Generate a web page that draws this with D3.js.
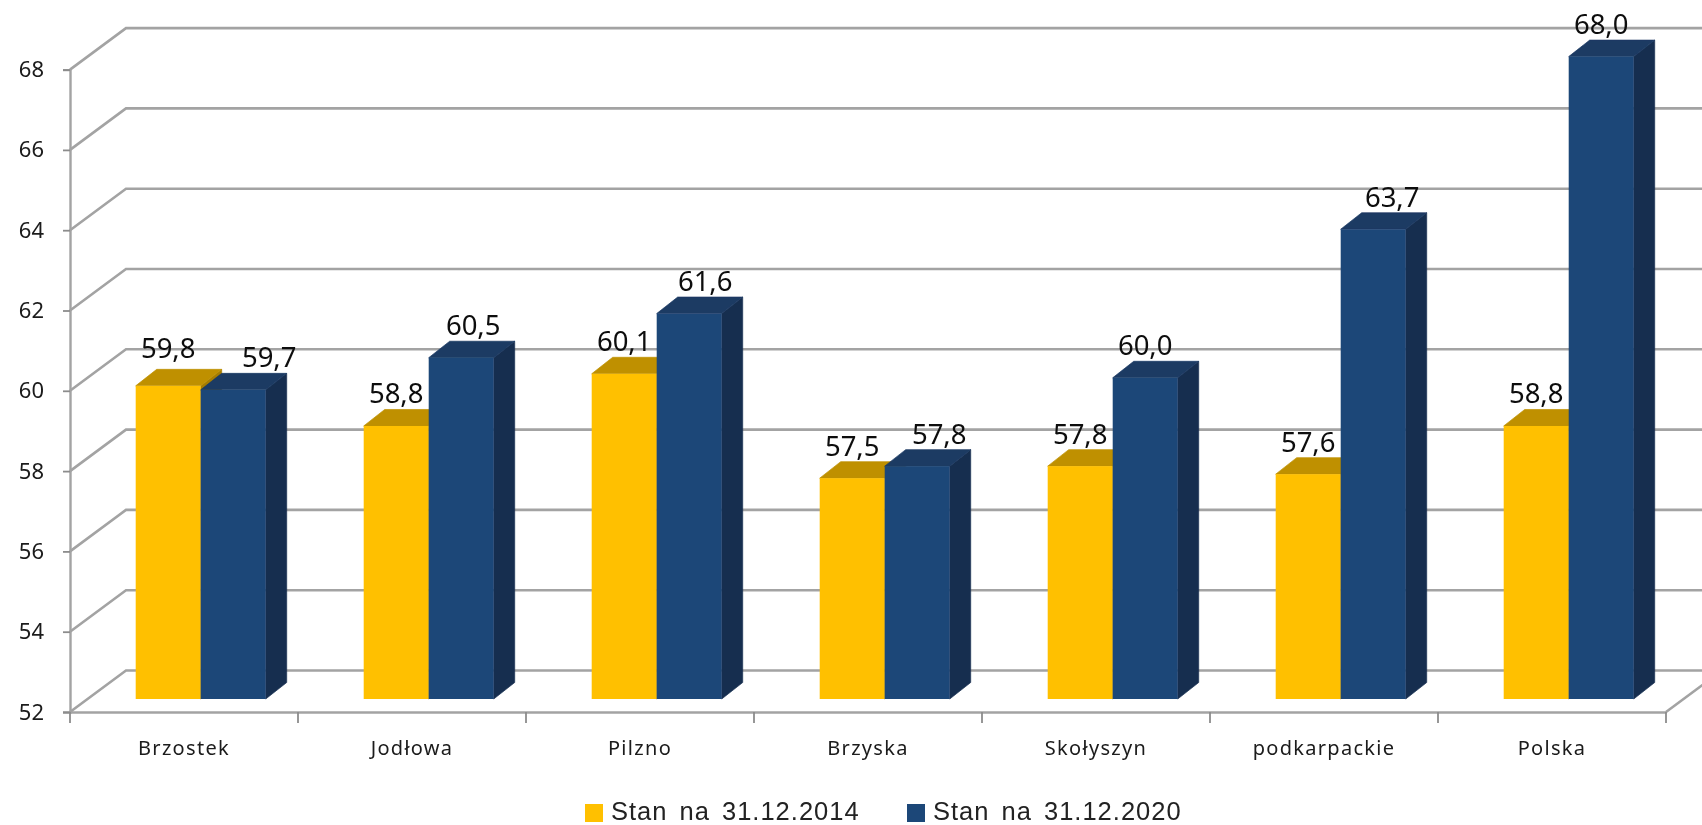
<!DOCTYPE html>
<html><head><meta charset="utf-8">
<script src="https://cdn.jsdelivr.net/npm/d3@7"></script>
<style>html,body{margin:0;padding:0;background:#fff;overflow:hidden}svg{display:block}</style>
</head><body><div id="c"></div>
<script>
const categories = ["Brzostek","Jodłowa","Pilzno","Brzyska","Skołyszyn","podkarpackie","Polska"];
const series2014 = [59.8,58.8,60.1,57.5,57.8,57.6,58.8];
const series2020 = [59.7,60.5,61.6,57.8,60.0,63.7,68.0];
const seriesNames = ["Stan na 31.12.2014","Stan na 31.12.2020"];
const yTicks = [52,54,56,58,60,62,64,66,68];
const labelNudgeX2020 = [36,12,16,22,0,19,0];
const labelNudgeY2014 = [-5,0,0,0,0,0,0];

const W=1702,H=825;
const svg=d3.select("#c").append("svg").attr("width",W).attr("height",H).attr("viewBox",`0 0 ${W} ${H}`);
const defs=svg.append("defs");
defs.append("filter").attr("id","soft").attr("x",0).attr("y",0).attr("width",1).attr("height",1)
  .attr("filterUnits","userSpaceOnUse").attr("width",W).attr("height",H)
  .append("feGaussianBlur").attr("stdDeviation",0.55);
const root=svg.append("g").attr("filter","url(#soft)");

const x=d3.scaleBand().domain(categories).range([70,1666]);
const y=d3.scaleLinear().domain([52,68]).range([712,69.6]);
const fmt=v=>d3.format(".1f")(v).replace(".",",");
const backDx=56, backDy=-41.5, grey="#a3a3a3";

// walls
const walls=root.append("g").attr("fill","none").attr("stroke",grey).attr("stroke-width",2.6);
walls.selectAll("path").data(yTicks).join("path")
  .attr("d",t=>`M70,${y(t)}L${70+backDx},${y(t)+backDy}H${W+10}`);
walls.append("path").attr("d",`M1666,${y(52)}L${1666+backDx},${y(52)+backDy}`);

// axes
const axL=root.append("g").attr("transform","translate(70,0)")
  .call(d3.axisLeft(y).tickValues(yTicks).tickSize(7).tickPadding(19).tickFormat(d3.format("d")));
const axB=root.append("g").attr("transform",`translate(0,${y(52)})`)
  .call(d3.axisBottom(x).tickValues(categories).tickSize(0).tickPadding(29));
axB.append("g").selectAll("line").data(d3.range(categories.length+1)).join("line")
  .attr("x1",i=>70+i*x.bandwidth()).attr("x2",i=>70+i*x.bandwidth()).attr("y1",0).attr("y2",11);
[axL,axB].forEach(a=>{
  a.selectAll("path.domain").attr("stroke",grey).attr("stroke-width",2.4);
  a.selectAll("line").attr("stroke","#8c8c8c").attr("stroke-width",1.8);
  a.selectAll("text").attr("fill","#1a1a1a").attr("font-family","'Noto Sans',sans-serif");
});
axL.selectAll("text").attr("font-size",22);
axB.selectAll("text").attr("font-size",20).attr("letter-spacing",1.3);

// bars
const barW=65, barOffset=65.7, floor=13, dx=21, dy=-16.5;
const palettes=[{front:"#ffc000",top:"#bf9000",side:"#a67d00"},{front:"#1f4778",top:"#1b3a63",side:"#172f50"}];
const rows=categories.map((c,i)=>[
  {c,i,s:0,v:series2014[i]},{c,i,s:1,v:series2020[i]}]).flat();
const bars=root.append("g").selectAll("g").data(rows).join("g");
const bx=d=>x(d.c)+barOffset+d.s*barW;
const by=v=>y(v)-floor;
bars.append("path").attr("fill",d=>palettes[d.s].side).attr("stroke",d=>palettes[d.s].side).attr("stroke-width",0.7)
  .attr("d",d=>{const r=bx(d)+barW;return `M${r},${by(d.v)}L${r+dx},${by(d.v)+dy}V${by(52)+dy}L${r},${by(52)}Z`});
bars.append("path").attr("fill",d=>palettes[d.s].top).attr("stroke",d=>palettes[d.s].top).attr("stroke-width",0.7)
  .attr("d",d=>{const l=bx(d);return `M${l},${by(d.v)}L${l+dx},${by(d.v)+dy}H${l+barW+dx}L${l+barW},${by(d.v)}Z`});
bars.append("rect").attr("fill",d=>palettes[d.s].front)
  .attr("x",bx).attr("y",d=>by(d.v)).attr("width",barW).attr("height",d=>by(52)-by(d.v));

// value labels
root.append("g").selectAll("text").data(rows).join("text")
  .attr("x",d=>bx(d)+barW/2+(d.s?labelNudgeX2020[d.i]:0))
  .attr("y",d=>by(d.v)+dy-6+(d.s?0:labelNudgeY2014[d.i]))
  .attr("text-anchor","middle").attr("font-family","'Noto Sans',sans-serif")
  .attr("font-size",27.5).attr("fill","#111").text(d=>fmt(d.v));

// legend
const legX=d3.scalePoint().domain(seriesNames).range([585,907]);
const leg=root.append("g").selectAll("g").data(seriesNames).join("g")
  .attr("transform",d=>`translate(${legX(d)},804)`);
leg.append("rect").attr("width",18).attr("height",18).attr("fill",(d,i)=>palettes[i].front);
leg.append("text").attr("x",26).attr("y",15.5).attr("font-family","'Liberation Sans',sans-serif")
  .attr("font-size",25.5).attr("letter-spacing",1).attr("word-spacing",4).attr("fill","#222").text(d=>d);
</script></body></html>
